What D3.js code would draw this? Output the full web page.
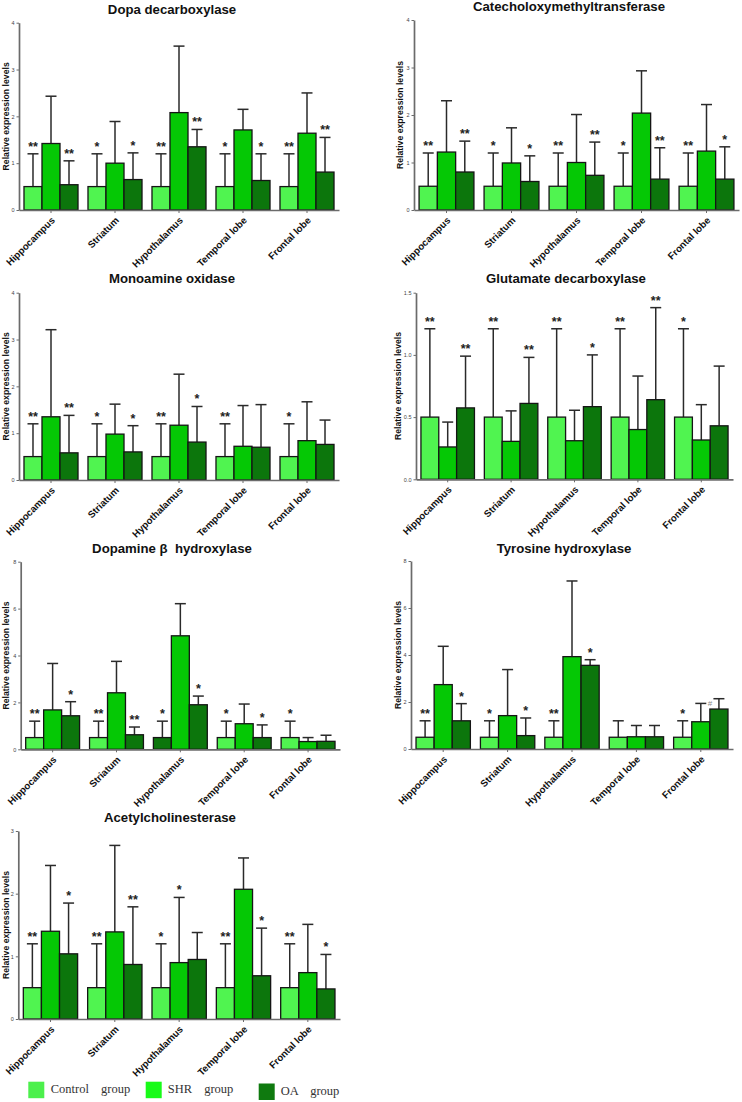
<!DOCTYPE html>
<html><head><meta charset="utf-8">
<script src="https://cdn.jsdelivr.net/npm/d3@7"></script>
<style>
body{margin:0;background:#fff;}
svg{display:block;}
text{font-family:"Liberation Sans",Arial,sans-serif;}
</style></head><body>
<svg id="chart" width="742" height="1102"></svg>
<script>
// ---- categories / series ----
const regions = ["Hippocampus", "Striatum", "Hypothalamus", "Temporal lobe", "Frontal lobe"];
const groupNames = ["Control", "SHR", "OA"];
const groupSuffix = "group";

// ---- Dopa decarboxylase ----
const ddcMean  = [[0.5,0.5,0.5,0.5,0.5],[1.42,1.0,2.08,1.71,1.64],[0.54,0.65,1.35,0.63,0.81]];
const ddcUpper = [[1.2,1.2,1.2,1.2,1.2],[2.43,1.89,3.5,2.15,2.5],[1.05,1.22,1.72,1.2,1.55]];
const ddcSig   = [["**","*","**","*","**"],["","","","",""],["**","*","**","*","**"]];
const ddcTicks = [0,1,2,3,4];

// ---- Catecholoxymethyltransferase ----
const comtMean  = [[0.5,0.5,0.5,0.5,0.5],[1.22,0.99,1.0,2.04,1.24],[0.8,0.6,0.73,0.65,0.65]];
const comtUpper = [[1.2,1.2,1.2,1.2,1.2],[2.3,1.73,2.01,2.93,2.22],[1.45,1.14,1.43,1.31,1.33]];
const comtSig   = [["**","*","**","*","**"],["","","","",""],["**","*","**","**","*"]];
const comtTicks = [0,1,2,3,4];

// ---- Monoamine oxidase ----
const maoMean  = [[0.5,0.5,0.5,0.5,0.5],[1.35,0.98,1.17,0.72,0.84],[0.58,0.6,0.81,0.7,0.76]];
const maoUpper = [[1.2,1.2,1.2,1.2,1.2],[3.21,1.62,2.26,1.59,1.67],[1.38,1.16,1.57,1.61,1.28]];
const maoSig   = [["**","*","**","**","*"],["","","","",""],["**","*","*","",""]];
const maoTicks = [0,1,2,3,4];

// ---- Glutamate decarboxylase ----
const gadMean  = [[0.5,0.5,0.5,0.5,0.5],[0.26,0.305,0.31,0.40,0.316],[0.574,0.61,0.584,0.64,0.43]];
const gadUpper = [[1.21,1.21,1.21,1.21,1.21],[0.46,0.55,0.555,0.83,0.6],[0.99,0.98,1.0,1.38,0.91]];
const gadSig   = [["**","**","**","**","*"],["","","","",""],["**","**","*","**",""]];
const gadTicks = [0,0.5,1.0,1.5];

// ---- Dopamine beta hydroxylase ----
const dbhMean  = [[0.5,0.5,0.5,0.5,0.5],[1.68,2.41,4.84,1.09,0.33],[1.43,0.62,1.9,0.5,0.34]];
const dbhUpper = [[1.2,1.2,1.2,1.2,1.2],[3.66,3.75,6.21,1.93,0.5],[2.03,0.95,2.27,1.04,0.6]];
const dbhSig   = [["**","**","*","*","*"],["","","","",""],["*","**","*","*",""]];
const dbhTicks = [0,2,4,6,8];

// ---- Tyrosine hydroxylase ----
const thMean  = [[0.5,0.5,0.5,0.5,0.5],[2.74,1.42,3.93,0.52,1.16],[1.2,0.57,3.56,0.52,1.7]];
const thUpper = [[1.2,1.2,1.2,1.2,1.2],[4.37,3.38,7.15,1.0,1.94],[1.93,1.32,3.8,1.0,2.14]];
const thSig   = [["**","*","**","","*"],["","","","",""],["*","*","*","","#"]];
const thTicks = [0,2,4,6,8];

// ---- Acetylcholinesterase ----
const acheMean  = [[0.5,0.5,0.5,0.5,0.5],[1.40,1.39,0.9,2.07,0.74],[1.04,0.87,0.95,0.69,0.48]];
const acheUpper = [[1.2,1.2,1.2,1.2,1.2],[2.45,2.77,1.94,2.57,1.51],[1.85,1.79,1.38,1.45,1.03]];
const acheSig   = [["**","**","*","**","**"],["","","*","",""],["*","**","","*","*"]];
const acheTicks = [0,1,2,3];

// ---- styles ----
const barColors = ["#50f450", "#05c805", "#0c760c"];
const legendColors = ["#4cf04c", "#18fb18", "#0f7a0f"];

const panels = [
  {title:"Dopa decarboxylase", mean:ddcMean, upper:ddcUpper, sig:ddcSig, ticks:ddcTicks, fmt:d3.format("d"),
   L:{x0:19, x1:339, yTop:22.7, y0:210, tx:172, ty:14, lx:8.5}},
  {title:"Catecholoxymethyltransferase", mean:comtMean, upper:comtUpper, sig:comtSig, ticks:comtTicks, fmt:d3.format("d"),
   L:{x0:414, x1:739, yTop:20, y0:210, tx:569, ty:11, lx:403}},
  {title:"Monoamine oxidase", mean:maoMean, upper:maoUpper, sig:maoSig, ticks:maoTicks, fmt:d3.format("d"),
   L:{x0:19, x1:339, yTop:292.7, y0:480, tx:172, ty:283, lx:8.5}},
  {title:"Glutamate decarboxylase", mean:gadMean, upper:gadUpper, sig:gadSig, ticks:gadTicks, fmt:d3.format(".1f"),
   L:{x0:416, x1:733, yTop:292.7, y0:479.3, tx:566, ty:283, lx:400.5}},
  {title:"Dopamine \u03b2  hydroxylase", mean:dbhMean, upper:dbhUpper, sig:dbhSig, ticks:dbhTicks, fmt:d3.format("d"),
   L:{x0:20.7, x1:340, yTop:561.7, y0:749.3, tx:172, ty:553, lx:9}, fillOverride:{r:2, s:0, color:2}},
  {title:"Tyrosine hydroxylase", mean:thMean, upper:thUpper, sig:thSig, ticks:thTicks, fmt:d3.format("d"),
   L:{x0:411, x1:733, yTop:561, y0:749, tx:564, ty:553, lx:400.5}},
  {title:"Acetylcholinesterase", mean:acheMean, upper:acheUpper, sig:acheSig, ticks:acheTicks, fmt:d3.format("d"),
   L:{x0:18.3, x1:340, yTop:831, y0:1019, tx:170, ty:822, lx:9}}
];

const svg = d3.select("#chart");
const axisColor = "#6b6b6b";

panels.forEach(p => {
  const L = p.L;
  const g = svg.append("g");
  const x = d3.scaleBand().domain(regions).range([L.x0, L.x1]).paddingInner(0.156).paddingOuter(0.078);
  const xs = d3.scaleBand().domain([0,1,2]).range([0, x.bandwidth()]);
  const yMax = p.ticks[p.ticks.length - 1];
  const y = d3.scaleLinear().domain([0, yMax]).range([L.y0, L.yTop]);

  const recs = [];
  regions.forEach((r, ri) => {
    [0,1,2].forEach(s => {
      recs.push({r, ri, s, mean:p.mean[s][ri], upper:p.upper[s][ri], sig:p.sig[s][ri]});
    });
  });

  // title
  g.append("text").attr("x", L.tx).attr("y", L.ty).attr("text-anchor","middle")
    .style("white-space","pre")
    .attr("font-size", 13.2).attr("font-weight","bold").attr("fill","#111").text(p.title);

  // y label
  g.append("text").attr("transform", `translate(${L.lx},${(L.y0 + L.yTop)/2}) rotate(-90)`)
    .attr("text-anchor","middle").attr("font-size", 8.7).attr("font-weight","bold").attr("fill","#111")
    .text("Relative expression levels");

  // error bars
  const eb = g.append("g").attr("stroke","#2a2a2a").attr("stroke-width",1.5).attr("fill","none");
  recs.forEach(d => {
    const cx = x(d.r) + xs(d.s) + xs.bandwidth()/2;
    eb.append("line").attr("x1",cx).attr("x2",cx).attr("y1",y(d.mean)).attr("y2",y(d.upper));
    eb.append("line").attr("x1",cx-5.5).attr("x2",cx+5.5).attr("y1",y(d.upper)).attr("y2",y(d.upper));
  });

  // bars
  g.append("g").selectAll("rect").data(recs).join("rect")
    .attr("x", d => x(d.r) + xs(d.s))
    .attr("width", xs.bandwidth())
    .attr("y", d => y(d.mean))
    .attr("height", d => y(0) - y(d.mean))
    .attr("fill", d => (p.fillOverride && p.fillOverride.r === d.ri && p.fillOverride.s === d.s)
                        ? barColors[p.fillOverride.color] : barColors[d.s])
    .attr("stroke","#151515").attr("stroke-width",1.3);

  // significance marks
  recs.filter(d => d.sig).forEach(d => {
    const cx = x(d.r) + xs(d.s) + xs.bandwidth()/2;
    if (d.sig === "#") {
      g.append("text").attr("x", cx - 9).attr("y", y(d.upper) + 7).attr("text-anchor","middle")
        .attr("font-size", 8).attr("fill","#8a8a8a").text(d.sig);
    } else {
      g.append("text").attr("x", cx).attr("y", y(d.upper) - 3).attr("text-anchor","middle")
        .attr("font-size", 12.5).attr("font-weight","bold").attr("fill","#222").text(d.sig);
    }
  });

  // y axis
  const ya = g.append("g").attr("transform", `translate(${L.x0},0)`)
    .call(d3.axisLeft(y).tickValues(p.ticks).tickFormat(p.fmt).tickSize(2.5).tickSizeOuter(0).tickPadding(2));
  ya.select(".domain").attr("stroke", axisColor).attr("stroke-width",1.7);
  ya.selectAll(".tick line").attr("stroke", axisColor).attr("stroke-width",1);
  ya.selectAll(".tick text").attr("font-size",5.5).attr("fill","#444").attr("font-family","Liberation Sans, Arial, sans-serif");

  // x axis
  const xa = g.append("g").attr("transform", `translate(0,${L.y0})`)
    .call(d3.axisBottom(x).tickSize(3).tickSizeOuter(0));
  xa.select(".domain").attr("stroke", axisColor).attr("stroke-width",1.7);
  xa.selectAll(".tick line").attr("stroke", axisColor).attr("stroke-width",1);
  xa.selectAll(".tick text")
    .attr("y", null).attr("dy", null)
    .attr("transform","translate(4.5,11) rotate(-45)")
    .attr("text-anchor","end")
    .attr("font-size", 9.7).attr("font-weight","bold").attr("fill","#111")
    .attr("font-family","Liberation Sans, Arial, sans-serif");
});

// legend
const legendPos = [{sx:28.3, sy:1081.7, tx:50.7, ty:1092.5}, {sx:145.7, sy:1081.7, tx:167.7, ty:1092.5}, {sx:258.7, sy:1083.5, tx:280.7, ty:1095}];
const lg = svg.append("g");
groupNames.forEach((name, i) => {
  const P = legendPos[i];
  lg.append("rect").attr("x", P.sx).attr("y", P.sy).attr("width", 16).attr("height", 16.5).attr("fill", legendColors[i]);
  lg.append("text").attr("x", P.tx).attr("y", P.ty)
    .style("font-family","'Liberation Serif', 'Times New Roman', serif")
    .attr("font-size", 12.5).attr("fill","#333").attr("word-spacing", 9)
    .text(name + " " + groupSuffix);
});
</script>
</body></html>
